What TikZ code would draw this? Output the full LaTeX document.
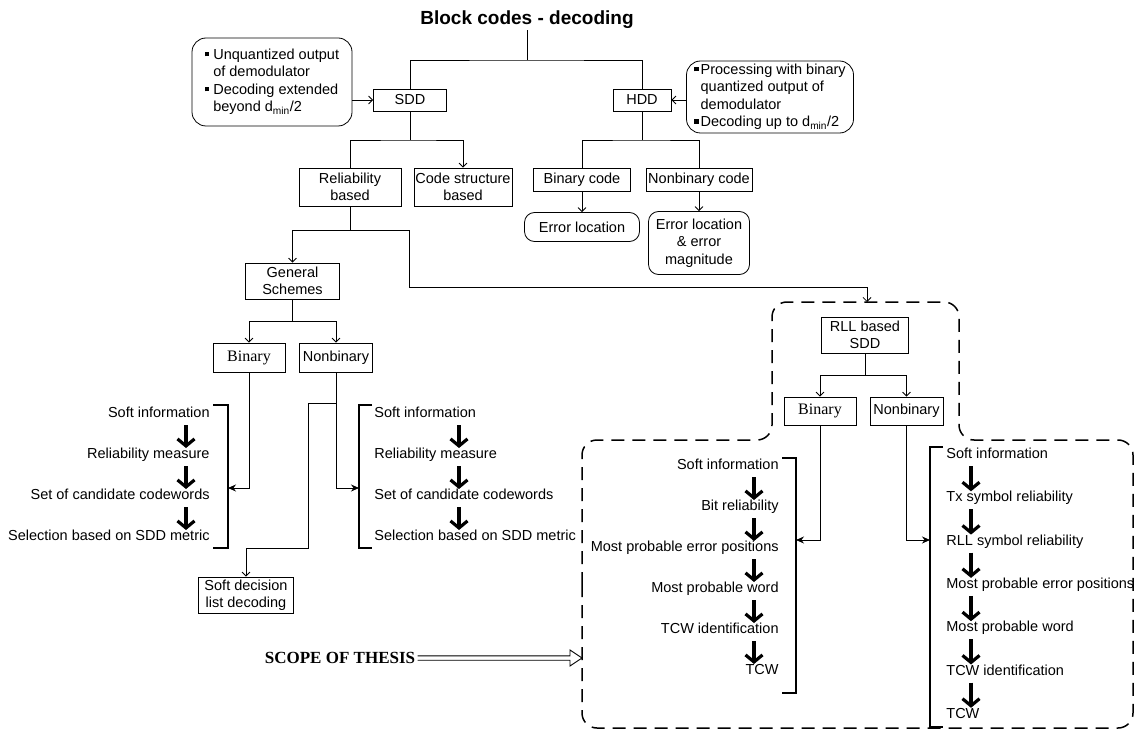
\documentclass[tikz,border=0pt]{standalone}
\usepackage{fontspec}
\setmainfont{Liberation Sans}
\newfontfamily\serifrm{Liberation Serif}
\usetikzlibrary{arrows.meta}
\newcommand{\bodysize}{\fontsize{14.5}{17.5}\selectfont}
\newcommand{\sqbul}{\rule[0.22em]{0.3em}{0.3em}}
\tikzset{
    treebox/.style = {
        rectangle,
        draw=black,
        line width=0.8pt,
        align=center,
        inner sep=1pt,
        font=\bodysize
    },
    notebox/.style = {
        treebox,
        rounded corners=14pt,
        align=left
    },
    roundbox/.style = {
        treebox,
        rounded corners=10pt
    },
    serifbox/.style = {
        treebox,
        font=\serifrm\fontsize{16}{18}\selectfont
    },
    steptext/.style = {
        inner sep=0pt,
        font=\bodysize
    },
    bigarrow/.style = {
        line width=3.2pt,
        -{Straight Barb[length=7pt,width=17pt]},
        shorten <=10pt,
        shorten >=8pt
    },
    sidearrow/.style = {
        line width=0.8pt,
        -{Stealth[length=8pt,width=7pt]}
    },
    bracketline/.style = {
        line width=1.8pt
    },
    scopeline/.style = {
        line width=1.5pt,
        dash pattern=on 13pt off 8pt,
        rounded corners=15pt
    },
    thesisarrow/.style = {
        line width=0.9pt,
        fill=white
    }
}
\begin{document}
\begin{tikzpicture}[x=1pt, y=-1pt, font=\bodysize, line width=0.8pt,
        >={Straight Barb[length=4pt,width=8pt]}]
\useasboundingbox (0,0) rectangle (1135,730);

% top of the tree
\node [inner sep=1pt, font=\fontsize{19}{22}\selectfont\bfseries] (title) at (527,20) {Block codes - decoding};
\node [treebox, minimum width=73pt, minimum height=22pt] (sdd) at (410,100) {SDD};
\node [treebox, minimum width=58pt, minimum height=22pt] (hdd) at (642,100) {HDD};
\node [notebox, minimum width=160pt, minimum height=88pt] (sddnote) at (272,82)
    {\sqbul\ Unquantized output\\\phantom{\sqbul\ }of demodulator\\\sqbul\ Decoding extended\\\phantom{\sqbul\ }beyond d\textsubscript{min}/2};
\node [notebox, minimum width=167pt, minimum height=72pt] (hddnote) at (770,97)
    {\sqbul\kern2pt Processing with binary\\\phantom{\sqbul\kern2pt}quantized output of\\\phantom{\sqbul\kern2pt}demodulator\\\sqbul\kern2pt Decoding up to d\textsubscript{min}/2};

% soft and hard branches
\node [treebox, minimum width=102pt, minimum height=38pt] (rel) at (350,187) {Reliability\\based};
\node [treebox, minimum width=98pt, minimum height=38pt] (codestr) at (463,187) {Code structure\\based};
\node [treebox, minimum width=97pt, minimum height=23pt] (bincode) at (582,180) {Binary code};
\node [treebox, minimum width=106pt, minimum height=23pt] (nbcode) at (699,180) {Nonbinary code};
\node [roundbox, minimum width=115pt, minimum height=29pt] (errloc) at (582,227) {Error location};
\node [roundbox, minimum width=101pt, minimum height=63pt] (errmag) at (699,243) {Error location\\\& error\\magnitude};

% general schemes
\node [treebox, minimum width=94pt, minimum height=36pt] (general) at (292.5,281) {General\\Schemes};
\node [serifbox, minimum width=72pt, minimum height=29pt] (genbin) at (249,357.5) {Binary};
\node [treebox, minimum width=73pt, minimum height=29pt] (gennb) at (336,357.5) {Nonbinary};
\node [treebox, minimum width=95pt, minimum height=36pt] (listdec) at (246,595) {Soft decision\\list decoding};

% RLL based SDD
\node [treebox, minimum width=87pt, minimum height=36pt] (rll) at (865,335) {RLL based\\SDD};
\node [serifbox, minimum width=72pt, minimum height=28pt] (rllbin) at (820,411) {Binary};
\node [treebox, minimum width=73pt, minimum height=28pt] (rllnb) at (906.5,411) {Nonbinary};

% soft information chains
\foreach \txt [count=\i] in {Soft information, Reliability measure, Set of candidate codewords, Selection based on SDD metric}
    \node [steptext, anchor=mid east] (gb\i) at (210,374+41*\i) {\txt};
\foreach \txt [count=\i] in {Soft information, Reliability measure, Set of candidate codewords, Selection based on SDD metric}
    \node [steptext, anchor=mid west] (gn\i) at (374,374+41*\i) {\txt};
\foreach \txt [count=\i] in {Soft information, Bit reliability, Most probable error positions, Most probable word, TCW identification, TCW}
    \node [steptext, anchor=mid east] (rb\i) at (779,426+41*\i) {\txt};
\foreach \txt [count=\i] in {Soft information, Tx symbol reliability, RLL symbol reliability, Most probable error positions, Most probable word, TCW identification, TCW}
    \node [steptext, anchor=mid west] (rn\i) at (946,412.7+43.3*\i) {\txt};

\coordinate (gbx) at (186,0);
\coordinate (gnx) at (459,0);
\coordinate (rbx) at (754,0);
\coordinate (rnx) at (971,0);
\foreach \a/\b in {1/2,2/3,3/4} {
    \draw [bigarrow] (gb\a.mid -| gbx) -- (gb\b.mid -| gbx);
    \draw [bigarrow] (gn\a.mid -| gnx) -- (gn\b.mid -| gnx);
}
\foreach \a/\b in {1/2,2/3,3/4,4/5,5/6}
    \draw [bigarrow] (rb\a.mid -| rbx) -- (rb\b.mid -| rbx);
\foreach \a/\b in {1/2,2/3,3/4,4/5,5/6,6/7}
    \draw [bigarrow] (rn\a.mid -| rnx) -- (rn\b.mid -| rnx);

% connectors of the tree
\coordinate (topsplit) at (527,60);
\draw (title) -- (topsplit);
\draw (sdd.north) |- (topsplit) -| (hdd.north);
\draw [->] (sddnote.east |- sdd.west) -- (sdd.west);
\draw [->] (hddnote.west |- hdd.east) -- (hdd.east);
\coordinate (sddsplit) at (410,140);
\draw (sdd) -- (sddsplit);
\draw [->] (rel.north) |- (sddsplit) -| (codestr.north);
\coordinate (hddsplit) at (642,140);
\draw (hdd) -- (hddsplit);
\draw (bincode.north) |- (hddsplit) -| (nbcode.north);
\draw [->] (bincode) -- (errloc);
\draw [->] (nbcode) -- (errmag);

\coordinate (relsplit) at (350,230);
\coordinate (rllbend) at (409,287);
\coordinate (rllin) at (867,302);
\draw (rel) -- (relsplit);
\draw [->] (relsplit) -| (general.north);
\draw [->] (relsplit) -| (rllbend) -| (rllin);

\coordinate (gensplit) at (292.5,321);
\draw (general) -- (gensplit);
\draw [->] (gensplit) -| (genbin.north);
\draw [->] (gensplit) -| (gennb.north);

% brackets round the chains
\draw [bracketline] (213,405) -- (228,405) -- (228,548) -- (213,548);
\draw [bracketline] (372,405) -- (359,405) -- (359,548) -- (372,548);
\draw [bracketline] (782,458) -- (796,458) -- (796,693) -- (782,693);
\draw [bracketline] (943,447) -- (930,447) -- (930,727) -- (943,727);
\coordinate (gbbrace) at (228,488);
\coordinate (gnbrace) at (359,488);
\coordinate (rbbrace) at (796,540);
\coordinate (rnbrace) at (930,540);
\draw [sidearrow] (genbin.south) |- (gbbrace);
\draw [sidearrow] (gennb.south) |- (gnbrace);
\draw [sidearrow] (rllbin.south) |- (rbbrace);
\draw [sidearrow] (rllnb.south) |- (rnbrace);

\coordinate (listsplit) at (336,403);
\coordinate (listbend) at (308,548);
\draw [->] (listsplit) -| (listbend) -| (listdec.north);

\coordinate (rllsplit) at (865,375);
\draw (rll) -- (rllsplit);
\draw [->] (rllsplit) -| (rllbin.north);
\draw [->] (rllsplit) -| (rllnb.north);

% scope of thesis
\draw [scopeline] (582,600) -- (582,440) -- (772,440) -- (772,302) -- (959,302)
    -- (959,440) -- (1133,440) -- (1133,728) -- (582,728) -- cycle;
\node [inner sep=2pt, font=\serifrm\bfseries\fontsize{17}{20}\selectfont] (scope) at (340,658) {SCOPE OF THESIS};
\coordinate (scopetip) at (582,658);
\draw [thesisarrow] ([yshift=2.2pt]scope.east) -- ([xshift=-12pt,yshift=2.2pt]scopetip)
    -- ([xshift=-12pt,yshift=8pt]scopetip) -- (scopetip)
    -- ([xshift=-12pt,yshift=-8pt]scopetip) -- ([xshift=-12pt,yshift=-2.2pt]scopetip)
    -- ([yshift=-2.2pt]scope.east);
\end{tikzpicture}
\end{document}
